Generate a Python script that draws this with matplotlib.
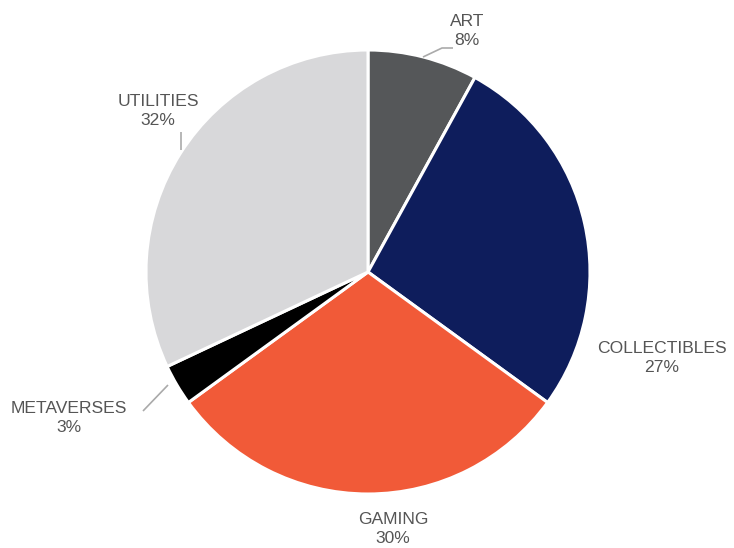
import numpy as np
import matplotlib
matplotlib.use("Agg")
import matplotlib.pyplot as plt

categories = ["ART", "COLLECTIBLES", "GAMING", "METAVERSES", "UTILITIES"]
values = [8, 27, 30, 3, 32]
colors = ["#555759", "#0e1d5c", "#f15a38", "#000000", "#d8d8da"]

W, H = 734, 548
fig = plt.figure(figsize=(W / 100, H / 100), dpi=100)
ax = fig.add_axes([0, 0, 1, 1])

cx, cy, R = 368, 272, 222
ax.pie(values, colors=colors, startangle=90, counterclock=False, radius=R,
       center=(cx, H - cy), wedgeprops=dict(edgecolor="white", linewidth=2.2))
ax.set_xlim(0, W)
ax.set_ylim(0, H)
ax.set_aspect("equal")
ax.axis("off")

# label text positions (pixel coords, top-left origin) and leader paths
label_pos = {
    "ART": (467, 31),
    "COLLECTIBLES": (662, 358),
    "GAMING": (393, 529),
    "METAVERSES": (69, 418),
    "UTILITIES": (158, 111),
}
leaders = {
    "ART": [(423, 57), (442, 48), (453, 48)],
    "METAVERSES": [(168, 385), (143, 411)],
    "UTILITIES": [(181, 150), (181, 132)],
}

for name, v in zip(categories, values):
    px, py = label_pos[name]
    ax.text(px, H - py, f"{name}\n{v}%", ha="center", va="center",
            fontsize=12.6, color="#555555", family="Liberation Sans",
            linespacing=1.4)
    if name in leaders:
        pts = np.array(leaders[name], dtype=float)
        ax.plot(pts[:, 0], H - pts[:, 1], color="#aaaaaa", lw=1.2,
                solid_capstyle="butt")

fig.savefig("out.png", dpi=100)
